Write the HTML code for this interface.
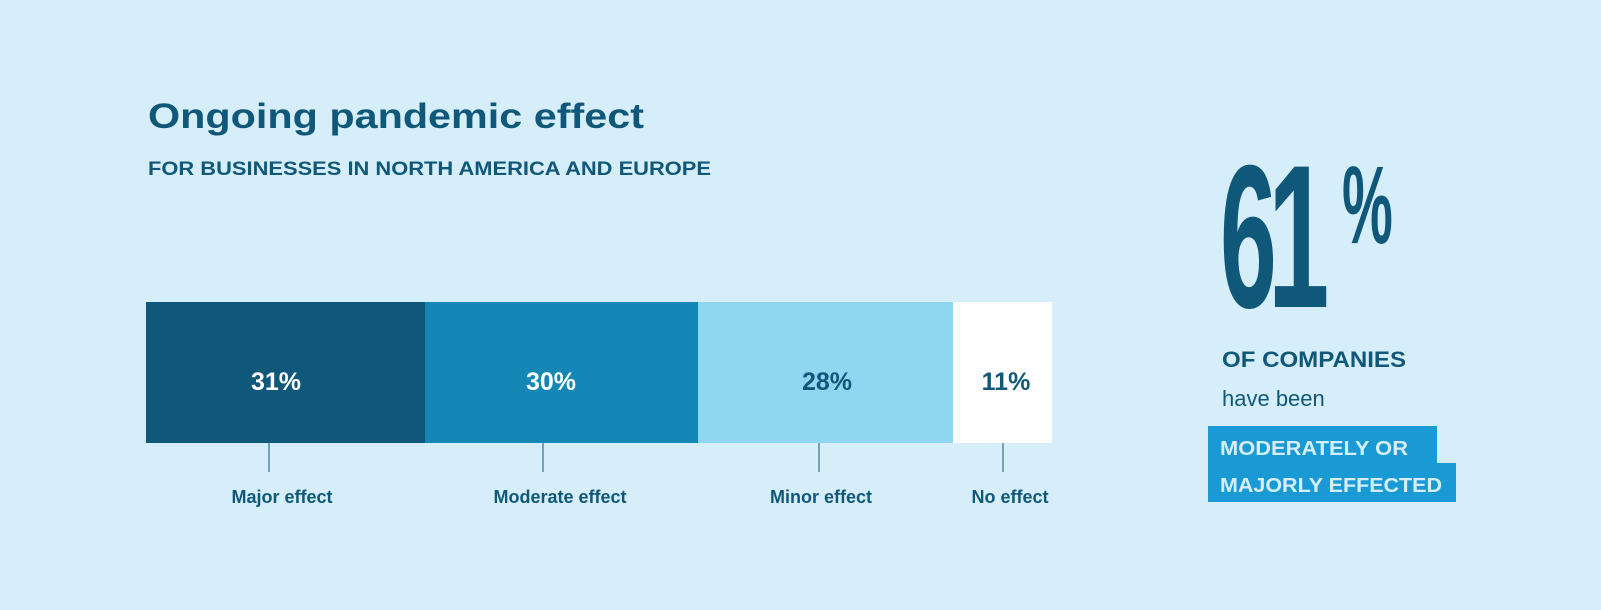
<!DOCTYPE html>
<html><head><meta charset="utf-8"><style>
html,body{margin:0;padding:0;background:#d6eef9;}
svg{display:block;}
</style></head><body>
<svg width="1601" height="610" viewBox="0 0 1601 610" xmlns="http://www.w3.org/2000/svg" font-family="Liberation Sans, sans-serif">
<rect width="1601" height="610" fill="#d6eef9"/>
<text x="148" y="128" font-size="35" font-weight="bold" fill="#10587a" textLength="496" lengthAdjust="spacingAndGlyphs">Ongoing pandemic effect</text>
<text x="148" y="175" font-size="19" font-weight="bold" fill="#10587a" textLength="563" lengthAdjust="spacingAndGlyphs">FOR BUSINESSES IN NORTH AMERICA AND EUROPE</text>
<rect x="146" y="302" width="279" height="141" fill="#10587a"/>
<rect x="425" y="302" width="273" height="141" fill="#1487b7"/>
<rect x="698" y="302" width="255" height="141" fill="#8fd6f1"/>
<rect x="953" y="302" width="99" height="141" fill="#ffffff"/>
<g font-size="25" font-weight="bold" text-anchor="middle">
<text x="276" y="390" fill="#ffffff">31%</text>
<text x="551" y="390" fill="#ffffff">30%</text>
<text x="827" y="390" fill="#10587a">28%</text>
<text x="1006" y="390" fill="#10587a">11%</text>
</g>
<g stroke="#10587a" stroke-width="1">
<line x1="269" y1="443" x2="269" y2="472"/>
<line x1="543" y1="443" x2="543" y2="472"/>
<line x1="819" y1="443" x2="819" y2="472"/>
<line x1="1003" y1="443" x2="1003" y2="472"/>
</g>
<g font-size="18" font-weight="bold" fill="#10587a" text-anchor="middle">
<text x="282" y="503">Major effect</text>
<text x="560" y="503">Moderate effect</text>
<text x="821" y="503">Minor effect</text>
<text x="1010" y="503">No effect</text>
</g>
<text transform="translate(1220,307) scale(0.5,1)" font-size="204" font-weight="bold" fill="#10587a">6</text>
<text transform="translate(1268,307) scale(0.54,1)" font-size="204" font-weight="bold" fill="#10587a">1</text>
<text transform="translate(1342,243) scale(0.52,1)" font-size="110" font-weight="bold" fill="#10587a">%</text>
<text x="1222" y="367" font-size="22" font-weight="bold" fill="#10587a" textLength="184" lengthAdjust="spacingAndGlyphs">OF COMPANIES</text>
<text x="1222" y="406" font-size="22" fill="#10587a">have been</text>
<rect x="1208" y="426" width="229" height="38" fill="#1a9ad5"/>
<rect x="1208" y="463" width="248" height="39" fill="#1a9ad5"/>
<text x="1220" y="455" font-size="20" font-weight="bold" fill="#d6eef9" textLength="188" lengthAdjust="spacingAndGlyphs">MODERATELY OR</text>
<text x="1220" y="492" font-size="20" font-weight="bold" fill="#d6eef9" textLength="222" lengthAdjust="spacingAndGlyphs">MAJORLY EFFECTED</text>
</svg>
</body></html>
